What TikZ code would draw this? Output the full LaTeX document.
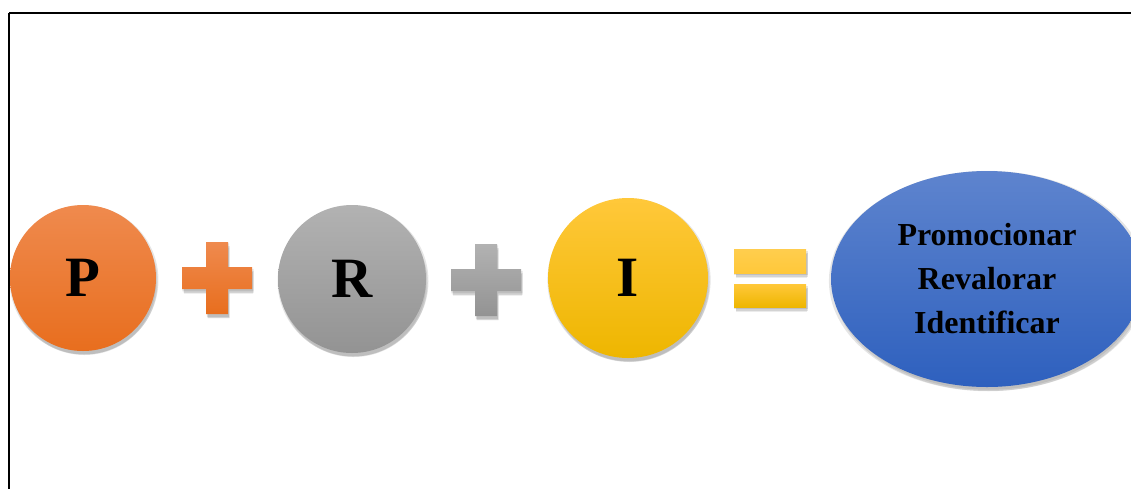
\documentclass[tikz,border=0pt]{standalone}
\usepackage{fontspec}
\setmainfont{Liberation Serif}
\usetikzlibrary{shadows,shapes.geometric}
\definecolor{orTop}{HTML}{EF8A4E}
\definecolor{orBot}{HTML}{E86E1E}
\definecolor{grTop}{HTML}{B2B2B2}
\definecolor{grBot}{HTML}{939393}
\definecolor{yeTop}{HTML}{FFC83A}
\definecolor{yeBot}{HTML}{EEB600}
\definecolor{blTop}{HTML}{5E84CE}
\definecolor{blBot}{HTML}{2E60BE}
\tikzset{
  softshadow/.style={
    drop shadow={shadow xshift=1pt,shadow yshift=-2pt,opacity=0.10,fill=black,shadow scale=1.02},
    drop shadow={shadow xshift=1.5pt,shadow yshift=-4pt,opacity=0.10,fill=black},
    drop shadow={shadow xshift=1.5pt,shadow yshift=-5pt,opacity=0.08,fill=black,shadow scale=0.98}},
  ball/.style={circle,inner sep=0pt,softshadow,font=\fontsize{57}{60}\selectfont\bfseries},
  sym/.style={softshadow},
}
\begin{document}
\begin{tikzpicture}[x=1pt,y=-1pt]
\useasboundingbox (0,0) rectangle (1131,488);
\clip (0,0) rectangle (1131,488);
% frame
\draw[line width=2.5pt,black] (9,13) -- (1160,13);
\draw[line width=2.5pt,black] (9,13) -- (9,500);
% circles
\node[ball,minimum size=146pt,top color=orTop,bottom color=orBot] (p) at (83,278) {P};
\node[ball,minimum size=148pt,top color=grTop,bottom color=grBot] (r) at (352,279) {R};
\node[ball,minimum size=160pt,top color=yeTop,bottom color=yeBot] (i) at (628,278) {I};
% plus signs
\path[sym,top color=orTop,bottom color=orBot]
  (182,267) -- (206,267) -- (206,242) -- (228,242) -- (228,267) -- (252,267)
  -- (252,289) -- (228,289) -- (228,314) -- (206,314) -- (206,289) -- (182,289) -- cycle;
\path[sym,top color=grTop,bottom color=grBot]
  (451,269) -- (475,269) -- (475,244) -- (497,244) -- (497,269) -- (521,269)
  -- (521,291) -- (497,291) -- (497,316) -- (475,316) -- (475,291) -- (451,291) -- cycle;
% equals sign
\path[sym,top color=yeTop!90!white,bottom color=yeTop] (734,249) rectangle (806,273);
\path[sym,top color=yeTop,bottom color=yeBot] (734,284) rectangle (806,307);
% result ellipse
\node[ellipse,minimum width=312pt,minimum height=216pt,inner sep=0pt,softshadow,
  top color=blTop,bottom color=blBot,align=center,
  font=\fontsize{32}{44}\selectfont\bfseries] (res) at (987,279)
  {Promocionar\\Revalorar\\Identificar};
\end{tikzpicture}
\end{document}
